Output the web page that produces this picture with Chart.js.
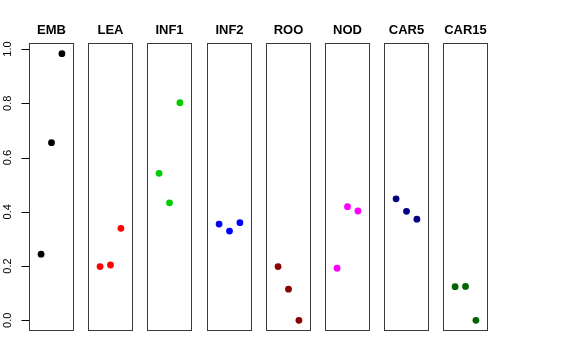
<!DOCTYPE html>
<html>
<head>
<meta charset="utf-8">
<script src="https://cdn.jsdelivr.net/npm/chart.js@4.4.1/dist/chart.umd.min.js"></script>
<style>
    html, body { margin: 0; padding: 0; background: #fff; }
    #wrap { position: relative; width: 576px; height: 360px; overflow: hidden; }
    #wrap canvas { position: absolute; top: 0; }
</style>
</head>
<body>
<div id="wrap"></div>
<script>
// --- Data ---
const panels = ["EMB", "LEA", "INF1", "INF2", "ROO", "NOD", "CAR5", "CAR15"];
const xIndex = [1, 2, 3];
const EMB = [0.244, 0.655, 0.983];
const LEA = [0.198, 0.204, 0.339];
const INF1 = [0.542, 0.433, 0.802];
const INF2 = [0.355, 0.329, 0.360];
const ROO = [0.198, 0.115, 0.0];
const NOD = [0.192, 0.419, 0.403];
const CAR5 = [0.448, 0.402, 0.373];
const CAR15 = [0.124, 0.125, 0.0];
const series = [EMB, LEA, INF1, INF2, ROO, NOD, CAR5, CAR15];
const colors = ["#000000", "#ff0000", "#00cd00", "#0000ff", "#8b0000", "#ff00ff", "#000080", "#006400"];
const yTicks = [0, 0.2, 0.4, 0.6, 0.8, 1.0];

// --- Layout ---
const FONT = "'Liberation Sans', Arial, Helvetica, sans-serif";
const AXIS_W = 29;
const PANEL_W = 45;
const TICK_LEN = 8;
const H = 360;
// x runs 0..4 and y 0..0.983, both with R's 4% padding
const X_MIN = -0.16, X_MAX = 4.16;
const Y_MIN = -0.0393, Y_MAX = 1.0223;

// frame around each plotting region + bold panel title
const boxPlugin = {
    id: "box",
    afterDraw(chart, args, opts) {
        const a = chart.chartArea;
        const c = chart.ctx;
        c.save();
        c.strokeStyle = "#3a3a3a";
        c.lineWidth = 1;
        c.strokeRect(Math.round(a.left) + 0.5, Math.round(a.top) + 0.5,
                     Math.round(a.right - a.left) - 1, Math.round(a.bottom - a.top) - 1);
        c.fillStyle = "#000";
        c.font = "bold 13px " + FONT;
        c.textAlign = "center";
        c.textBaseline = "alphabetic";
        c.fillText(opts.text, (a.left + a.right) / 2, a.top - 9);
        c.restore();
    },
};

// R style left axis: line from first to last tick, ticks pointing out
const axisPlugin = {
    id: "raxis",
    afterDatasetsDraw(chart) {
        const ys = chart.scales.y;
        const c = chart.ctx;
        const x0 = Math.round(chart.chartArea.left) + 0.5;
        c.save();
        c.strokeStyle = "#000000";
        c.lineWidth = 1;
        c.beginPath();
        c.moveTo(x0, Math.round(ys.getPixelForValue(yTicks[0])) + 0.5);
        c.lineTo(x0, Math.round(ys.getPixelForValue(yTicks[yTicks.length - 1])) + 0.5);
        c.stroke();
        yTicks.forEach(v => {
            const py = Math.round(ys.getPixelForValue(v)) + 0.5;
            c.beginPath();
            c.moveTo(x0 - TICK_LEN, py);
            c.lineTo(x0, py);
            c.stroke();
        });
        c.restore();
    },
};

const wrap = document.getElementById("wrap");

panels.forEach((name, k) => {
    const first = k === 0;
    const boxLeft = 29 + Math.round(59.2 * k);
    const cv = document.createElement("canvas");
    const w = PANEL_W + (first ? AXIS_W : 0);
    cv.width = w;
    cv.height = H;
    cv.style.width = w + "px";
    cv.style.height = H + "px";
    cv.style.left = (boxLeft - (first ? AXIS_W : 0)) + "px";
    wrap.appendChild(cv);

    new Chart(cv.getContext("2d"), {
        type: "scatter",
        data: {
            datasets: [{
                data: series[k].map((v, i) => ({ x: xIndex[i], y: v })),
                backgroundColor: colors[k],
                borderWidth: 0,
                pointRadius: 3.4,
                pointHoverRadius: 3.4,
                clip: false,
            }],
        },
        options: {
            responsive: false,
            animation: false,
            devicePixelRatio: 1,
            layout: { autoPadding: false, padding: { top: 43, bottom: 29, left: 0, right: 0 } },
            scales: {
                x: {
                    type: "linear",
                    display: false,
                    bounds: "data",
                    min: X_MIN,
                    max: X_MAX,
                },
                y: {
                    type: "linear",
                    display: first,
                    bounds: "data",
                    min: Y_MIN,
                    max: Y_MAX,
                    afterBuildTicks: (s) => { s.ticks = yTicks.map(v => ({ value: v })); },
                    afterFit: (s) => { if (first) s.width = AXIS_W; },
                    border: { display: false },
                    grid: { display: false, drawOnChartArea: false, drawTicks: false },
                    ticks: {
                        minRotation: 90,
                        maxRotation: 90,
                        crossAlign: "center",
                        padding: 13,
                        color: "#000",
                        font: { family: FONT, size: 11 },
                        callback: (v) => Number(v).toFixed(1),
                    },
                },
            },
            plugins: {
                legend: { display: false },
                tooltip: { enabled: false },
                title: { display: false },
                box: { text: name },
            },
        },
        plugins: first ? [boxPlugin, axisPlugin] : [boxPlugin],
    });
});
</script>
</body>
</html>
